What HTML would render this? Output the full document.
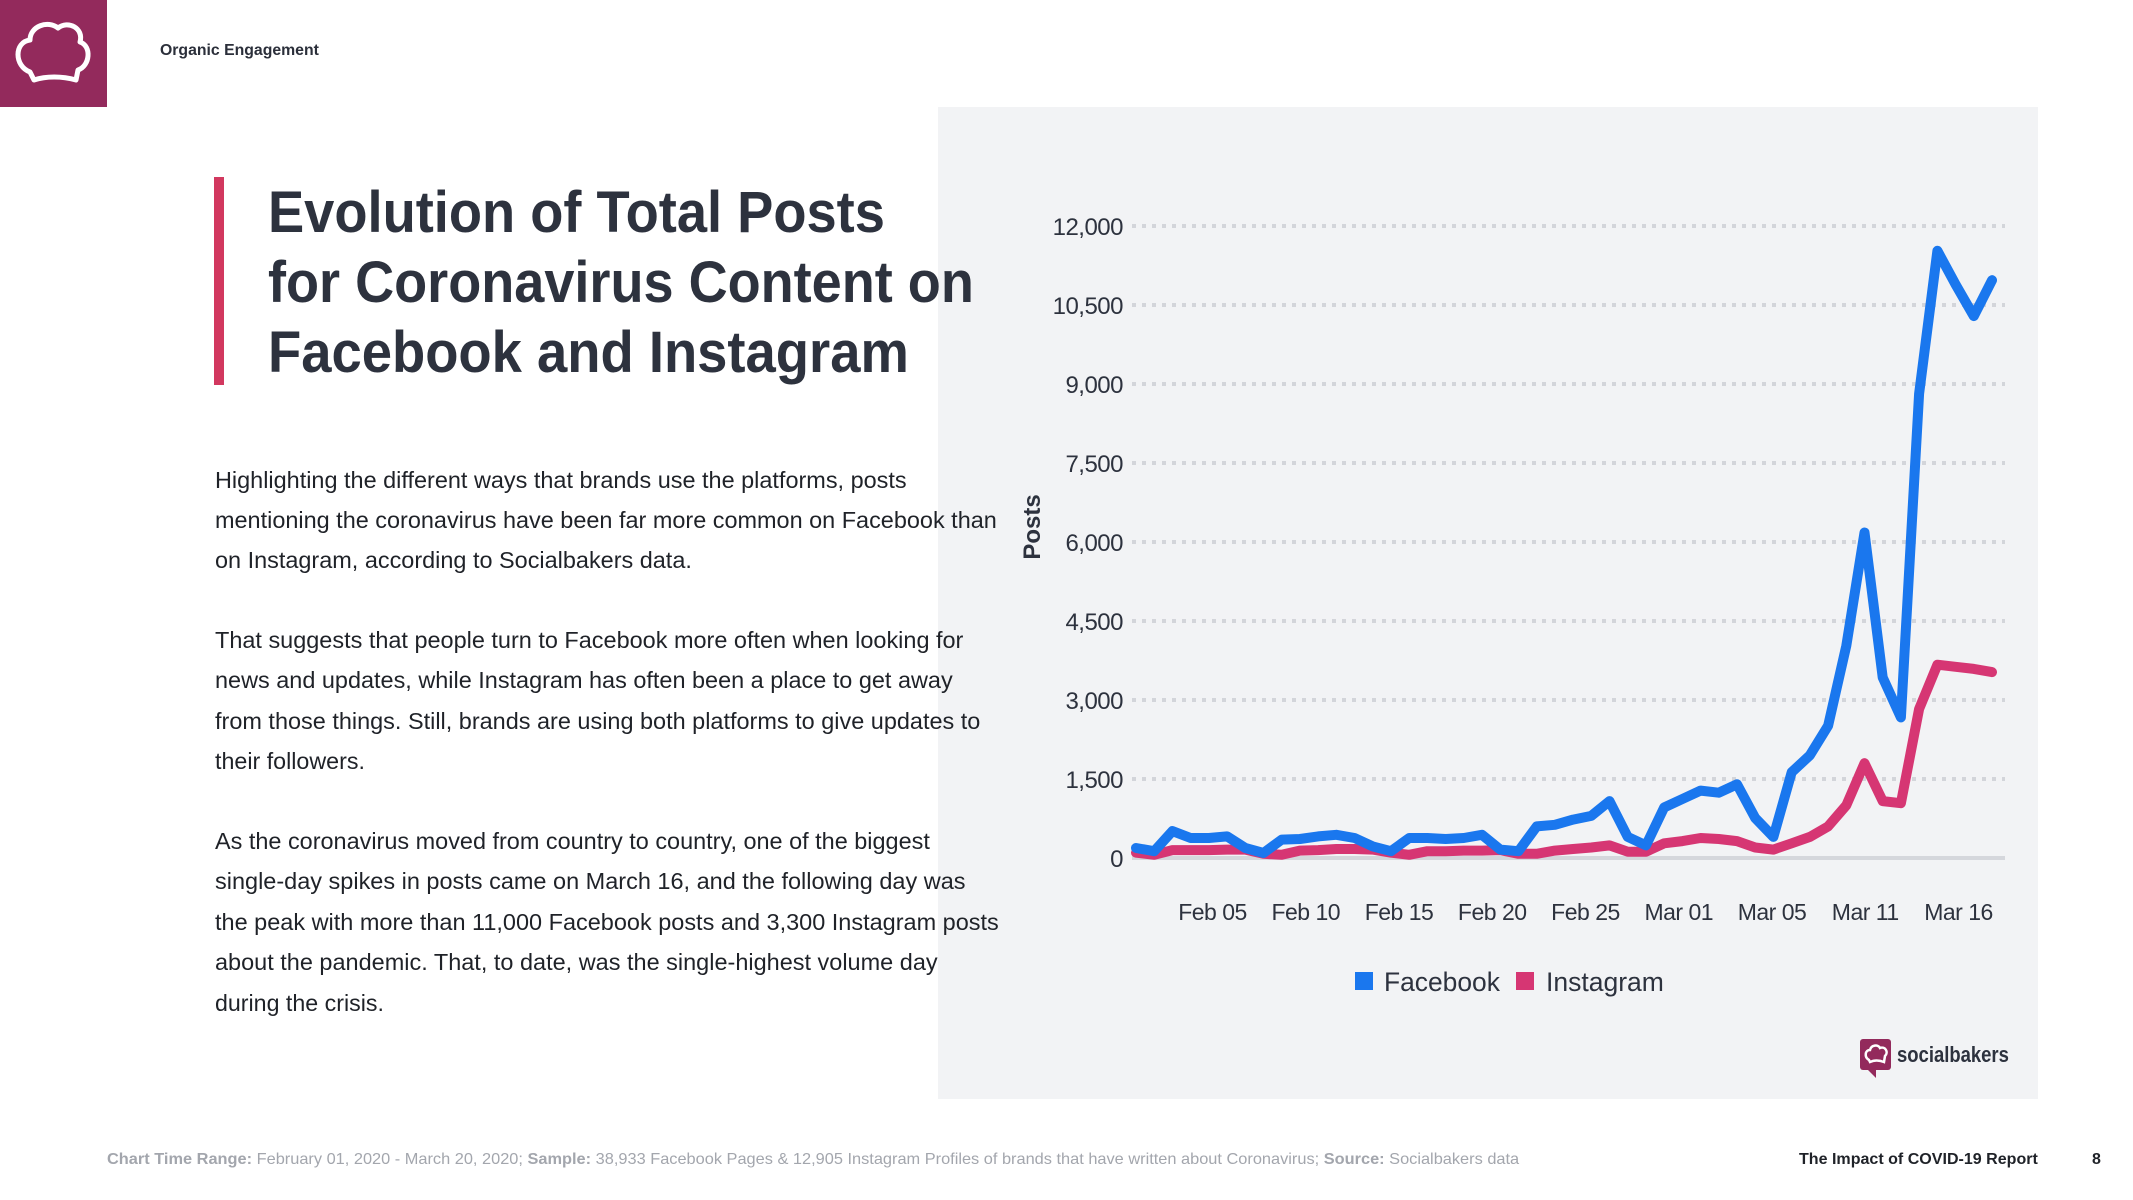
<!DOCTYPE html>
<html><head><meta charset="utf-8">
<style>
html,body{margin:0;padding:0;background:#fff;}
svg{display:block;font-family:"Liberation Sans",sans-serif;}
</style></head>
<body>
<svg id="page" width="2133" height="1200" viewBox="0 0 2133 1200" xmlns="http://www.w3.org/2000/svg">
  <rect x="0" y="0" width="2133" height="1200" fill="#ffffff"/>
  <rect x="938" y="107" width="1100" height="992" fill="#f2f3f5"/>
  <g>
    <rect x="0" y="0" width="107" height="107" fill="#932a5c"/>
    <path d="M30 72 C14 66 14 42 30 40 C30 26 48 20 58 28 C68 20 84 28 80 42 C92 46 90 66 78 70 L76 80 C62 76 46 76 34 80 Z" fill="none" stroke="#fff" stroke-width="5" stroke-linejoin="round"/>
  </g>
  <text class="fit" data-w="159" x="160" y="55" font-size="16" font-weight="bold" fill="#2b2f3a">Organic Engagement</text>

  <rect x="214" y="177" width="10" height="208" fill="#d2385f"/>
  <g font-size="58" font-weight="bold" fill="#2d323e">
    <text class="fit" data-w="617" x="268" y="232">Evolution of Total Posts</text>
    <text class="fit" data-w="706" x="268" y="302">for Coronavirus Content on</text>
    <text class="fit" data-w="641" x="268" y="372">Facebook and Instagram</text>
  </g>

  <g font-size="23" fill="#1f2228">
    <text class="fit" data-w="692" x="215" y="488">Highlighting the different ways that brands use the platforms, posts</text>
    <text class="fit" data-w="782" x="215" y="528">mentioning the coronavirus have been far more common on Facebook than</text>
    <text class="fit" data-w="477" x="215" y="568">on Instagram, according to Socialbakers data.</text>
    <text class="fit" data-w="749" x="215" y="648">That suggests that people turn to Facebook more often when looking for</text>
    <text class="fit" data-w="738" x="215" y="688">news and updates, while Instagram has often been a place to get away</text>
    <text class="fit" data-w="766" x="215" y="729">from those things. Still, brands are using both platforms to give updates to</text>
    <text class="fit" data-w="150" x="215" y="769">their followers.</text>
    <text class="fit" data-w="715" x="215" y="849">As the coronavirus moved from country to country, one of the biggest</text>
    <text class="fit" data-w="751" x="215" y="889">single-day spikes in posts came on March 16, and the following day was</text>
    <text class="fit" data-w="784" x="215" y="930">the peak with more than 11,000 Facebook posts and 3,300 Instagram posts</text>
    <text class="fit" data-w="723" x="215" y="970">about the pandemic. That, to date, was the single-highest volume day</text>
    <text class="fit" data-w="169" x="215" y="1011">during the crisis.</text>
  </g>

  <g id="chart"></g>

  <text transform="translate(1040,527) rotate(-90)" text-anchor="middle" font-size="24" font-weight="bold" fill="#2d323e">Posts</text>

  <g>
    <g>
      <rect x="1355" y="972" width="18" height="18" fill="#1a77ee"/>
      <text class="fit" data-w="116" x="1384" y="991" font-size="27" fill="#2d323e">Facebook</text>
    </g>
    <g>
      <rect x="1516" y="972" width="18" height="18" fill="#d63673"/>
      <text class="fit" data-w="118" x="1546" y="991" font-size="27" fill="#2d323e">Instagram</text>
    </g>
  </g>

  <g>
    <rect x="1860" y="1039" width="31" height="31" rx="3" fill="#932a5c"/>
    <path d="M1868 1070 L1876 1078 L1876 1070 Z" fill="#932a5c"/>
    <path d="M1869 1060 C1864 1057 1865 1050 1870 1050 C1871 1045 1878 1044 1880 1048 C1885 1046 1889 1052 1885 1056 L1884 1062 C1879 1060 1874 1060 1870 1062 Z" fill="none" stroke="#fff" stroke-width="2.5"/>
    <text class="fit" data-w="112" x="1897" y="1062" font-size="22" font-weight="bold" fill="#2d323e">socialbakers</text>
  </g>

  <g font-size="16">
    <text class="fit" data-w="1413" x="107" y="1164" fill="#a3a6ad"><tspan font-weight="bold">Chart Time Range:</tspan> February 01, 2020 - March 20, 2020; <tspan font-weight="bold">Sample:</tspan> 38,933 Facebook Pages &amp; 12,905 Instagram Profiles of brands that have written about Coronavirus; <tspan font-weight="bold">Source:</tspan> Socialbakers data</text>
    <text class="fit" data-w="239" x="1799" y="1164" fill="#1f2228" font-weight="bold">The Impact of COVID-19 Report</text>
    <text x="2092" y="1164" fill="#1f2228" font-weight="bold">8</text>
  </g>
</svg>
<script>
const facebook = [190,130,510,380,380,410,190,95,350,360,410,440,380,220,130,380,380,360,380,440,160,130,600,630,730,800,1080,400,240,960,1120,1280,1240,1400,760,400,1630,1950,2510,4030,6180,3430,2670,8815,11530,10890,10290,10970];
const instagram = [100,60,150,150,150,160,160,80,60,140,150,170,170,160,100,60,130,130,140,140,150,80,80,140,170,200,240,120,120,280,320,380,360,320,200,160,280,400,600,1000,1800,1080,1040,2830,3670,3630,3590,3530];
const yTicks = [0,1500,3000,4500,6000,7500,9000,10500,12000];
const yTickLabels = ["0","1,500","3,000","4,500","6,000","7,500","9,000","10,500","12,000"];
const xLabels = ["Feb 05","Feb 10","Feb 15","Feb 20","Feb 25","Mar 01","Mar 05","Mar 11","Mar 16"];

document.querySelectorAll('text.fit').forEach(el => {
  const target = parseFloat(el.getAttribute('data-w'));
  const w = el.getComputedTextLength();
  const x = parseFloat(el.getAttribute('x'));
  if (w > 0) el.setAttribute('transform', 'translate(' + x + ',0) scale(' + (target / w) + ',1) translate(' + (-x) + ',0)');
});

const NS = "http://www.w3.org/2000/svg";
const g = document.getElementById('chart');
const X0 = 1136, X1 = 1992, Y0 = 858, Y1 = 226, GL = 1132, GR = 2005;
const n = facebook.length;
function xs(i){ return X0 + (X1 - X0) * i / (n - 1); }
function ys(v){ return Y0 - (Y0 - Y1) * v / 12000; }
function mk(tag, attrs){ const e = document.createElementNS(NS, tag); for (const k in attrs) e.setAttribute(k, attrs[k]); g.appendChild(e); return e; }

yTicks.forEach((t, i) => {
  const y = ys(t);
  if (t === 0) {
    const l = mk('line', {x1: GL, x2: GR, y1: y, y2: y, stroke: '#d5d7dc', 'stroke-width': 4});
    
    
  } else {
    const l = mk('line', {x1: GL, x2: GR, y1: y, y2: y, stroke: '#d3d5da', 'stroke-width': 4, 'stroke-dasharray': '4 6'});
    
    
  }
  const tx = mk('text', {x: 1123, y: y + 9, 'text-anchor': 'end', 'font-size': 24, fill: '#2d323e', 'letter-spacing': '-0.5'});
  tx.textContent = yTickLabels[i];
  
  
});

xLabels.forEach((lab, i) => {
  const t = mk('text', {x: xs(4.2 + i * 5.12), y: 920, 'text-anchor': 'middle', 'font-size': 23, fill: '#2d323e', 'letter-spacing': '-0.5'});
  t.textContent = lab;
  
  
});

function series(data, color, name){
  const pts = data.map((v, i) => xs(i).toFixed(1) + ',' + ys(v).toFixed(1)).join(' ');
  const p = mk('polyline', {points: pts, fill: 'none', stroke: color, 'stroke-width': 10, 'stroke-linejoin': 'round', 'stroke-linecap': 'round'});
  
  
}
series(instagram, '#d63673', 'instagram-line');
series(facebook, '#1a77ee', 'facebook-line');
</script>
</body></html>
